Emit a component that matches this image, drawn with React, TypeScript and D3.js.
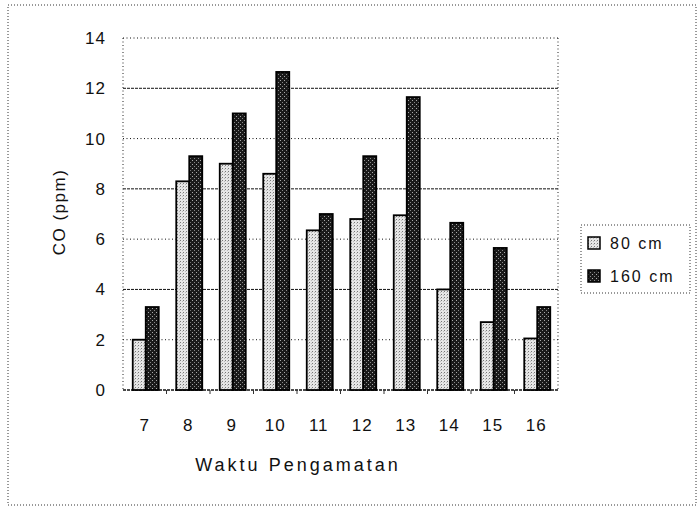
import React from 'react';
import * as d3 from 'd3';

const hours = ['7', '8', '9', '10', '11', '12', '13', '14', '15', '16'];
const co80 = [2.0, 8.3, 9.0, 8.6, 6.35, 6.8, 6.95, 4.0, 2.7, 2.05];
const co160 = [3.3, 9.3, 11.0, 12.65, 7.0, 9.3, 11.65, 6.65, 5.65, 3.3];
const yTicks = [0, 2, 4, 6, 8, 10, 12, 14];
const seriesNames = ['80 cm', '160 cm'];

const W = 699;
const H = 507;
const plot = { left: 123, right: 558, top: 38, bottom: 390 };
const font = '"Liberation Sans", Arial, sans-serif';

const App = () => {
  const x = d3.scaleBand().domain(hours).range([plot.left, plot.right]);
  const y = d3.scaleLinear().domain([0, 14]).range([plot.bottom, plot.top]);
  const inner = d3.scaleBand().domain(['a', 'b']).range([0, 26]);
  const barOffset = (x.bandwidth() - 26) / 2 + 1;

  const series = [
    { name: seriesNames[0], values: co80, fill: 'url(#p80)' },
    { name: seriesNames[1], values: co160, fill: 'url(#p160)' },
  ];

  return (
    <svg
      width={W}
      height={H}
      style={{ position: 'absolute', left: 0, top: 0, background: '#fff' }}
      fontFamily={font}
    >
      <defs>
        <pattern id="p80" width="3" height="3" patternUnits="userSpaceOnUse">
          <rect width="3" height="3" fill="#e6e6e6" />
          <rect x="0" y="0" width="1" height="1" fill="#777" />
          <rect x="2" y="1" width="1" height="1" fill="#bbb" />
        </pattern>
        <pattern id="p160" width="4" height="4" patternUnits="userSpaceOnUse">
          <rect width="4" height="4" fill="#1a1a1a" />
          <rect x="0" y="0" width="1" height="1" fill="#aaa" />
          <rect x="2" y="2" width="1" height="1" fill="#888" />
        </pattern>
      </defs>

      {/* outer frame */}
      <rect x={8} y={5} width={688} height={500} fill="none" stroke="#333" strokeDasharray="1,2" />

      {/* grid */}
      {yTicks.map((t) => (
        <line
          key={t}
          x1={plot.left}
          x2={plot.right}
          y1={y(t)}
          y2={y(t)}
          stroke="#111"
          strokeDasharray={t === 0 ? '3,1' : t % 4 === 0 ? '3,1' : '1,2.5'}
          strokeWidth={t === 0 ? 1.4 : 1}
        />
      ))}
      <line x1={plot.left} x2={plot.left} y1={plot.top} y2={plot.bottom} stroke="#222" strokeDasharray="1,2.5" />
      <line x1={plot.right} x2={plot.right} y1={plot.top} y2={plot.bottom} stroke="#222" strokeDasharray="1,2.5" />

      {/* category tick marks */}
      {hours.slice(1).map((h) => (
        <line key={h} x1={x(h)!} x2={x(h)!} y1={plot.bottom} y2={plot.bottom + 4} stroke="#333" />
      ))}

      {/* bars */}
      {series.map((s, si) =>
        s.values.map((v, i) => (
          <rect
            key={si + '-' + i}
            x={x(hours[i])! + barOffset + inner(si === 0 ? 'a' : 'b')!}
            y={y(v)}
            width={inner.bandwidth()}
            height={y(0) - y(v)}
            fill={s.fill}
            stroke="#000"
            strokeWidth={1.8}
          />
        ))
      )}

      {/* y tick labels */}
      {yTicks.map((t) => (
        <text key={t} x={106} y={y(t) + 6} textAnchor="end" fontSize={17} letterSpacing={1} fill="#111">
          {t}
        </text>
      ))}

      {/* x tick labels */}
      {hours.map((h) => (
        <text
          key={h}
          x={x(h)! + x.bandwidth() / 2}
          y={431}
          textAnchor="middle"
          fontSize={17}
          letterSpacing={1}
          fill="#111"
        >
          {h}
        </text>
      ))}

      <text x={298} y={471} textAnchor="middle" fontSize={18} letterSpacing={3} fill="#111">
        Waktu Pengamatan
      </text>
      <text
        transform="translate(65,212) rotate(-90)"
        textAnchor="middle"
        fontSize={17}
        letterSpacing={1.5}
        fill="#111"
      >
        CO (ppm)
      </text>

      {/* legend */}
      <rect x={581} y={225} width={109} height={68} fill="none" stroke="#333" strokeDasharray="1,2" />
      {series.map((s, i) => (
        <g key={s.name} transform={`translate(588, ${237 + i * 33})`}>
          <rect width={12} height={12} fill={s.fill} stroke="#000" strokeWidth={1.5} />
          <text x={22} y={12} fontSize={16} letterSpacing={2} fill="#111">
            {s.name}
          </text>
        </g>
      ))}
    </svg>
  );
};

export default App;
